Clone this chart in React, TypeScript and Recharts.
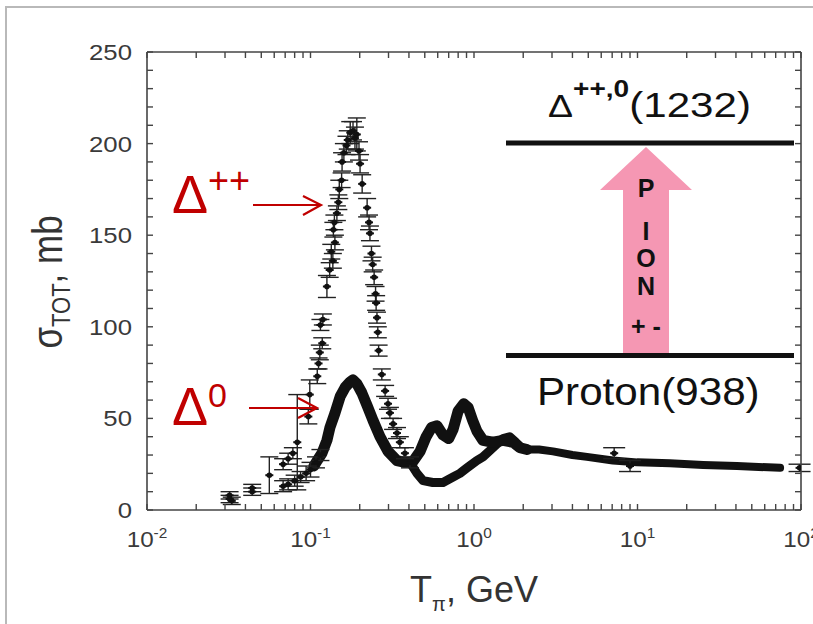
import React from "react";
import { ComposedChart, Scatter, Line, XAxis, YAxis, ErrorBar } from "recharts";

// tick positions (log axis: decades + minor ticks)
const xTicks = [
  0.01, 0.02, 0.03, 0.04, 0.05, 0.06, 0.07, 0.08, 0.09,
  0.1, 0.2, 0.3, 0.4, 0.5, 0.6, 0.7, 0.8, 0.9,
  1, 2, 3, 4, 5, 6, 7, 8, 9,
  10, 20, 30, 40, 50, 60, 70, 80, 90, 100,
];
const yTicks = [0, 10, 20, 30, 40, 50, 60, 70, 80, 90, 100, 110, 120, 130, 140, 150, 160, 170, 180, 190, 200, 210, 220, 230, 240, 250];

// pi+ p (Delta++) : single points with error bars, GeV / mb
const piPlusPoints = [
  { x: 0.032, y: 6, e: 2 },
  { x: 0.044, y: 10, e: 2 },
  { x: 0.056, y: 19, e: 10 },
  { x: 0.068, y: 25, e: 3 },
  { x: 0.073, y: 28, e: 3 },
  { x: 0.078, y: 31, e: 3 },
  { x: 0.083, y: 37, e: 26 },
  { x: 0.097, y: 51, e: 4 },
  { x: 0.099, y: 63, e: 8 },
  { x: 0.11, y: 73, e: 4 },
  { x: 0.112, y: 80, e: 3 },
  { x: 0.114, y: 86, e: 4 },
  { x: 0.118, y: 91, e: 3 },
  { x: 0.115, y: 101, e: 3 },
  { x: 0.119, y: 104, e: 3 },
  { x: 0.126, y: 122, e: 6 },
  { x: 0.131, y: 131, e: 4 },
  { x: 0.137, y: 136, e: 4 },
  { x: 0.134, y: 141, e: 4 },
  { x: 0.141, y: 146, e: 4 },
  { x: 0.138, y: 153, e: 4 },
  { x: 0.14, y: 157, e: 4 },
  { x: 0.145, y: 162, e: 4 },
  { x: 0.148, y: 168, e: 4 },
  { x: 0.15, y: 175, e: 5 },
  { x: 0.155, y: 180, e: 4 },
  { x: 0.156, y: 190, e: 5 },
  { x: 0.16, y: 195, e: 5 },
  { x: 0.166, y: 199, e: 5 },
  { x: 0.169, y: 202, e: 5 },
  { x: 0.175, y: 206, e: 6 },
  { x: 0.182, y: 207, e: 5 },
  { x: 0.187, y: 203, e: 6 },
  { x: 0.192, y: 205, e: 9 },
  { x: 0.198, y: 196, e: 5 },
  { x: 0.201, y: 189, e: 5 },
  { x: 0.207, y: 178, e: 5 },
  { x: 0.222, y: 165, e: 5 },
  { x: 0.228, y: 157, e: 4 },
  { x: 0.231, y: 151, e: 4 },
  { x: 0.236, y: 140, e: 4 },
  { x: 0.24, y: 134, e: 4 },
  { x: 0.245, y: 127, e: 4 },
  { x: 0.25, y: 118, e: 4 },
  { x: 0.252, y: 113, e: 4 },
  { x: 0.255, y: 105, e: 3 },
  { x: 0.258, y: 97, e: 3 },
  { x: 0.261, y: 87, e: 3 },
  { x: 0.273, y: 74, e: 3 },
  { x: 0.286, y: 65, e: 3 },
  { x: 0.298, y: 58, e: 3 },
  { x: 0.306, y: 53, e: 3 },
  { x: 0.32, y: 47, e: 3 },
  { x: 0.338, y: 42, e: 3 },
  { x: 0.352, y: 37, e: 3 },
  { x: 0.378, y: 31, e: 3 },
  { x: 0.406, y: 26, e: 3 },
];

// pi+ p dense measurements above 0.4 GeV
const piPlusBand = [
  { x: 0.406, y: 26 },
  { x: 0.448, y: 20 },
  { x: 0.488, y: 16 },
  { x: 0.56, y: 15 },
  { x: 0.646, y: 15 },
  { x: 0.745, y: 18 },
  { x: 0.82, y: 20 },
  { x: 0.906, y: 23 },
  { x: 1.04, y: 27 },
  { x: 1.135, y: 29 },
  { x: 1.306, y: 34 },
  { x: 1.504, y: 39 },
  { x: 1.65, y: 40 },
  { x: 1.8, y: 37 },
  { x: 1.95, y: 34 },
  { x: 2.11, y: 33 },
];

// pi- p (Delta0) : low energy points
const piMinusPoints = [
  { x: 0.032, y: 8, e: 2 },
  { x: 0.033, y: 5, e: 2 },
  { x: 0.044, y: 12, e: 2 },
  { x: 0.068, y: 13, e: 3 },
  { x: 0.073, y: 14, e: 3 },
  { x: 0.08, y: 16, e: 3 },
  { x: 0.087, y: 18, e: 3 },
  { x: 0.094, y: 20, e: 4 },
  { x: 0.1, y: 22, e: 4 },
  { x: 0.108, y: 26, e: 3 },
  { x: 0.115, y: 30, e: 3 },
];

// pi- p dense measurements
const piMinusBand = [
  { x: 0.105, y: 24 },
  { x: 0.11, y: 27 },
  { x: 0.1175, y: 31 },
  { x: 0.126, y: 38 },
  { x: 0.1315, y: 45 },
  { x: 0.1413, y: 53 },
  { x: 0.152, y: 62 },
  { x: 0.163, y: 67 },
  { x: 0.175, y: 70 },
  { x: 0.182, y: 71 },
  { x: 0.192, y: 69 },
  { x: 0.206, y: 64 },
  { x: 0.222, y: 57 },
  { x: 0.241, y: 49 },
  { x: 0.266, y: 40 },
  { x: 0.298, y: 32 },
  { x: 0.338, y: 27 },
  { x: 0.378, y: 26 },
  { x: 0.42, y: 26 },
  { x: 0.468, y: 32 },
  { x: 0.51, y: 40 },
  { x: 0.55, y: 45 },
  { x: 0.594, y: 46 },
  { x: 0.646, y: 41 },
  { x: 0.7, y: 39 },
  { x: 0.745, y: 44 },
  { x: 0.8, y: 54 },
  { x: 0.865, y: 58 },
  { x: 0.92, y: 56 },
  { x: 0.98, y: 49 },
  { x: 1.043, y: 43 },
  { x: 1.135, y: 38 },
  { x: 1.306, y: 37 },
  { x: 1.504, y: 38 },
  { x: 1.732, y: 37 },
  { x: 1.91, y: 34 },
  { x: 2.11, y: 33 },
];

// high energy tail, both channels together
const tailBand = [
  { x: 2.11, y: 33 },
  { x: 2.5, y: 33 },
  { x: 3.04, y: 32 },
  { x: 4.0, y: 30 },
  { x: 4.91, y: 29 },
  { x: 7.08, y: 27 },
  { x: 9.93, y: 26 },
  { x: 15.8, y: 25.5 },
  { x: 25.2, y: 24.6 },
  { x: 40.6, y: 24 },
  { x: 74.5, y: 23 },
];
const tailPoints = [
  { x: 7.2, y: 31, e: 3 },
  { x: 9.0, y: 24, e: 3 },
  { x: 98, y: 23, e: 2 },
];

const FONT = "'Liberation Sans', Arial, Helvetica, sans-serif";
const AXIS = "#444";
const LABEL = "#3a3a3a";
const RED = "#c00000";
const PINK = "#f597b3";
const INK = "#111";

const isDecade = (v: number) => {
  const p = Math.pow(10, Math.round(Math.log10(v)));
  return Math.abs(v - p) < 1e-9 * v;
};

// labels only; tick marks come from the axis tickLine (drawn inward)
const XTickBottom = (props: any) => {
  const { x, y, payload } = props;
  const v = payload.value;
  if (!isDecade(v)) return <g />;
  const exp = Math.round(Math.log10(v));
  return (
    <text
      transform={`translate(${x},${y + 37}) scale(1.1,1)`}
      textAnchor="middle"
      fontFamily={FONT}
      fontSize={22}
      fill={LABEL}
    >
      10<tspan fontSize={14} dy={-9}>{`${exp}`}</tspan>
    </text>
  );
};

const YTickLeft = (props: any) => {
  const { x, y, payload } = props;
  const v = payload.value;
  if (v % 50 !== 0) return <g />;
  return (
    <text
      transform={`translate(${x - 15},${y + 8}) scale(1.17,1)`}
      textAnchor="end"
      fontFamily={FONT}
      fontSize={22}
      fill={LABEL}
    >
      {v}
    </text>
  );
};

const NoLabel = () => <g />;

const Marker = (props: any) => {
  const { cx, cy } = props;
  if (cx == null || cy == null) return null;
  return (
    <g>
      <circle cx={cx} cy={cy} r={2.8} fill={INK} />
      <line x1={cx - 4} x2={cx + 4} y1={cy} y2={cy} stroke={INK} strokeWidth={2} />
    </g>
  );
};

const axisLine = { stroke: AXIS, strokeWidth: 1.6 };
const tickLine = { stroke: AXIS, strokeWidth: 1.4 };

function Overlay() {
  return (
    <svg
      width={813}
      height={624}
      style={{ position: "absolute", left: 0, top: 0, pointerEvents: "none" }}
      fontFamily={FONT}
    >
      {/* slide frame */}
      <rect x={6} y={7} width={1000} height={1000} fill="none" stroke="#b9b9b9" strokeWidth={2} />

      {/* axis titles */}
      <text transform="translate(62,282) scale(1.2,1) rotate(-90)" textAnchor="middle" fontSize={35} fill="#333">
        σ<tspan fontSize={22} dy={7}>TOT</tspan>
        <tspan dy={-7}>, mb</tspan>
      </text>
      <text x={474} y={602} textAnchor="middle" fontSize={36} fill="#333">
        T<tspan fontSize={20} dy={9}>π</tspan>
        <tspan dy={-9}>, GeV</tspan>
      </text>

      {/* red labels */}
      <text x={172} y={213} fontSize={54} fill={RED}>
        Δ<tspan fontSize={36} dy={-20}>++</tspan>
      </text>
      <line x1={253} x2={320} y1={205} y2={205} stroke={RED} strokeWidth={2.2} />
      <polyline points="303,196 321,205 303,215" fill="none" stroke={RED} strokeWidth={2.2} />

      <text x={172} y={425} fontSize={54} fill={RED}>
        Δ<tspan fontSize={34} dy={-18}>0</tspan>
      </text>
      <line x1={249} x2={316} y1={408} y2={408} stroke={RED} strokeWidth={2.2} />
      <polyline points="298,398 317,408 298,418" fill="none" stroke={RED} strokeWidth={2.2} />

      {/* level diagram */}
      <polygon points="646,147 692,190 669,190 669,354 623,354 623,190 600,190" fill={PINK} />
      <line x1={506} x2={794} y1={143} y2={143} stroke={INK} strokeWidth={5} />
      <line x1={506} x2={794} y1={355.5} y2={355.5} stroke={INK} strokeWidth={5} />
      <text transform="translate(548,117) scale(1.17,1)" fill={INK}>
        <tspan fontSize={32}>Δ</tspan>
        <tspan fontSize={24} fontWeight="bold" dy={-20}>++,0</tspan>
        <tspan fontSize={36} dy={20}>(1232)</tspan>
      </text>
      <g fontSize={25} fontWeight="bold" fill={INK} textAnchor="middle">
        <text x={646} y={197}>P</text>
        <text x={646} y={240}>I</text>
        <text x={646} y={267}>O</text>
        <text x={646} y={295}>N</text>
        <text x={646} y={335}>+ -</text>
      </g>
      <text transform="translate(537,405) scale(1.11,1)" fontSize={38} fill={INK}>
        Proton(938)
      </text>
    </svg>
  );
}

export default function App() {
  return (
    <div style={{ position: "absolute", left: 0, top: 0, width: 813, height: 624, background: "#fff" }}>
      <ComposedChart width={813} height={624} margin={{ top: 51, right: 11, bottom: 84, left: 87 }}>
        <XAxis
          xAxisId="b"
          dataKey="x"
          type="number"
          scale="log"
          domain={[0.01, 100]}
          allowDataOverflow
          ticks={xTicks}
          interval={0}
          tickSize={-6}
          tickMargin={6}
          tickLine={tickLine}
          tick={XTickBottom}
          axisLine={axisLine}
          height={30}
        />
        <XAxis
          xAxisId="t"
          orientation="top"
          dataKey="x"
          type="number"
          scale="log"
          domain={[0.01, 100]}
          allowDataOverflow
          ticks={xTicks}
          interval={0}
          tickSize={-6}
          tickMargin={6}
          tickLine={tickLine}
          tick={NoLabel}
          axisLine={axisLine}
          height={1}
        />
        <YAxis
          yAxisId="l"
          dataKey="y"
          type="number"
          domain={[0, 250]}
          allowDataOverflow
          ticks={yTicks}
          interval={0}
          tickSize={-6}
          tickMargin={6}
          tickLine={tickLine}
          tick={YTickLeft}
          axisLine={axisLine}
          width={60}
        />
        <YAxis
          yAxisId="r"
          orientation="right"
          dataKey="y"
          type="number"
          domain={[0, 250]}
          allowDataOverflow
          ticks={yTicks}
          interval={0}
          tickSize={-6}
          tickMargin={6}
          tickLine={tickLine}
          tick={NoLabel}
          axisLine={axisLine}
          width={1}
        />

        <Line xAxisId="b" yAxisId="l" data={tailBand} dataKey="y" stroke={INK} strokeWidth={8}
          strokeLinejoin="round" strokeLinecap="round" dot={false} activeDot={false} isAnimationActive={false} />
        <Line xAxisId="b" yAxisId="l" data={piPlusBand} dataKey="y" stroke={INK} strokeWidth={9}
          strokeLinejoin="round" strokeLinecap="round" dot={false} activeDot={false} isAnimationActive={false} />
        <Line xAxisId="b" yAxisId="l" data={piMinusBand} dataKey="y" stroke={INK} strokeWidth={11}
          strokeLinejoin="round" strokeLinecap="round" dot={false} activeDot={false} isAnimationActive={false} />

        <Scatter xAxisId="b" yAxisId="l" data={piMinusPoints} dataKey="y" shape={Marker} isAnimationActive={false}>
          <ErrorBar dataKey="e" direction="y" width={9} stroke="#222" strokeWidth={1.4} isAnimationActive={false} />
        </Scatter>
        <Scatter xAxisId="b" yAxisId="l" data={piPlusPoints} dataKey="y" shape={Marker} isAnimationActive={false}>
          <ErrorBar dataKey="e" direction="y" width={9} stroke="#222" strokeWidth={1.4} isAnimationActive={false} />
        </Scatter>
        <Scatter xAxisId="b" yAxisId="l" data={tailPoints} dataKey="y" shape={Marker} isAnimationActive={false}>
          <ErrorBar dataKey="e" direction="y" width={11} stroke="#222" strokeWidth={1.4} isAnimationActive={false} />
        </Scatter>
      </ComposedChart>
      <Overlay />
    </div>
  );
}
